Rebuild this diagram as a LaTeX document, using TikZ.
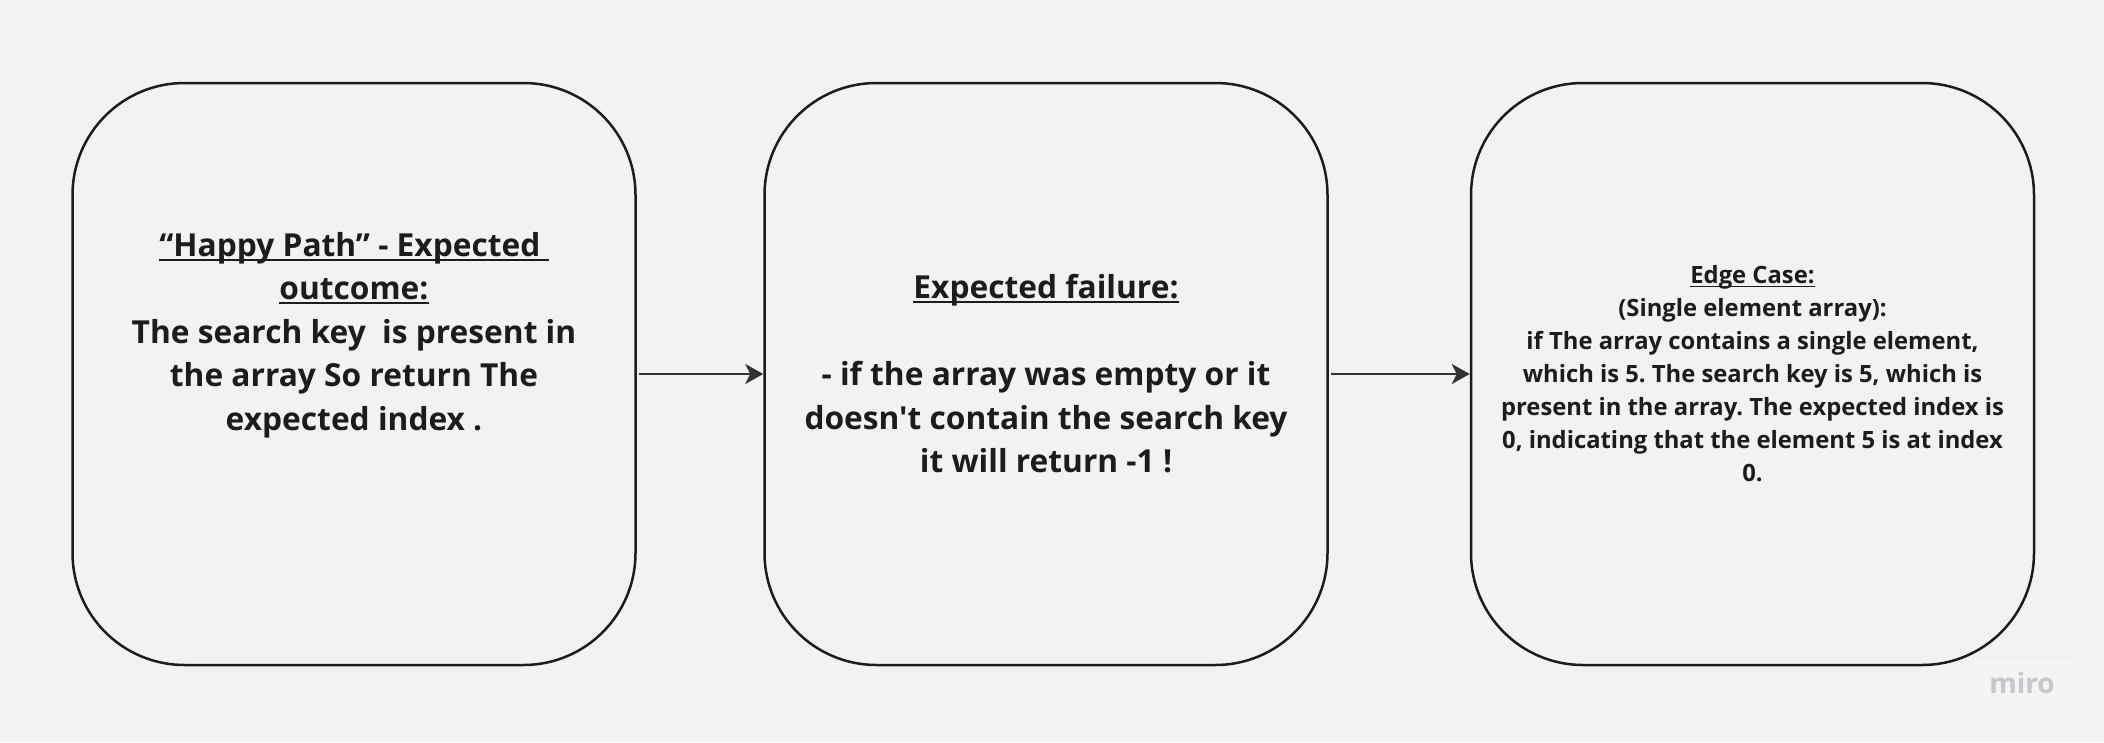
\documentclass[tikz,border=0pt]{standalone}
\usepackage{fontspec}
\setmainfont{Open Sans}[Ligatures=TeXOff]
\usetikzlibrary{arrows.meta}
\frenchspacing
\definecolor{bgc}{HTML}{F2F2F2}
\definecolor{inkc}{HTML}{1C1C1C}
\definecolor{arrc}{HTML}{333333}
\definecolor{miroc}{HTML}{C6C6CC}
\definecolor{mirobg}{HTML}{F4F4F4}
\newcommand\myul[1]{\setbox0\hbox{#1}\rlap{\color{inkc}\rule[-0.14em]{\wd0}{0.065em}}\box0}
\tikzset{
  card/.style={draw=inkc, line width=2.5pt, rounded corners=112pt, fill=bgc,
    minimum width=563pt, minimum height=582pt, inner sep=0pt},
  bigtxt/.style={text=inkc, align=center, font=\fontsize{31.7}{43.5}\selectfont\bfseries\frenchspacing, inner sep=0pt},
  smalltxt/.style={text=inkc, align=center, font=\fontsize{23.8}{33}\selectfont\bfseries\frenchspacing, inner sep=0pt},
  conn/.style={draw=arrc, line width=2.5pt, -{Stealth[length=18pt,width=20pt,inset=5pt]}, shorten <=2pt}
}
\begin{document}
\begin{tikzpicture}[x=1pt,y=-1pt]
\fill[bgc] (0,0) rectangle (2104,742);
\useasboundingbox (0,0) rectangle (2104,742);
\node[card] (b1) at (354,374) {};
\node[card] (b2) at (1046,374) {};
\node[card] (b3) at (1752.5,374) {};
\node[bigtxt] (t1) at (354,335) {\myul{“Happy Path” - Expected\ }\\\myul{outcome:}\\The search key\ \ is present in\\the array So return The\\expected index .};
\node[bigtxt] (t2) at (1046,374) {\myul{Expected failure:}\\\strut\\- if the array was empty or it\\doesn't contain the search key\\it will return -1 !};
\node[smalltxt] (t3) at (1752.5,374) {\myul{Edge Case:}\\(Single element array):\\if The array contains a single element,\\which is 5. The search key is 5, which is\\present in the array. The expected index is\\0, indicating that the element 5 is at index\\0.};
\draw[conn] (b1.east) -- (b2.west);
\draw[conn] (b2.east) -- (b3.west);
\node[fill=mirobg, minimum width=97pt, minimum height=51pt, inner sep=0pt] (logo) at (2022,683) {};
\node[text=miroc, font=\fontsize{28}{28}\selectfont\bfseries, inner sep=0pt] (mirotxt) at (logo.center) {miro};
\end{tikzpicture}
\end{document}
